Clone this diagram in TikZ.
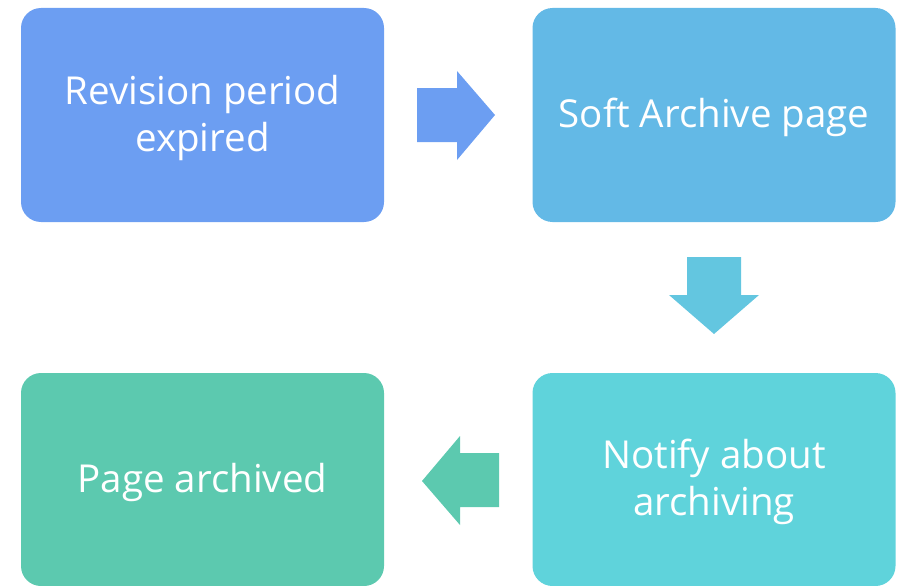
\documentclass[tikz,border=0pt]{standalone}
\usepackage{fontspec}
\setmainfont{Open Sans}
\definecolor{boxA}{HTML}{6C9EF2}
\definecolor{boxB}{HTML}{63B9E6}
\definecolor{boxC}{HTML}{5FD3DB}
\definecolor{boxD}{HTML}{5CC9AF}
\definecolor{arrB}{HTML}{63C6E0}
\begin{document}
\begin{tikzpicture}[x=1pt,y=-1pt,every node/.style={text=white,align=center,font=\fontsize{38.5}{47}\selectfont},
	stagebox/.style={rounded corners=20pt,minimum width=363pt,inner sep=0pt,text depth=4pt}]
		\useasboundingbox(0,0)rectangle(897,586);
		\node[stagebox,fill=boxA,minimum height=214pt](expired)at(202.5,115){Revision period\\expired};
		\node[stagebox,fill=boxB,minimum height=214pt](soft)at(714,115){Soft Archive page};
		\node[stagebox,fill=boxC,minimum height=213pt](notify)at(714,479.5){Notify about\\archiving};
		\node[stagebox,fill=boxD,minimum height=213pt](archived)at(202.5,479.5){Page archived};
		% block arrows
		\fill[boxA](417,88)--(457,88)--(457,71)--(495,115)--(457,160)--(457,142)--(417,142)--cycle;
		\fill[arrB](687,257)--(741,257)--(741,295)--(759,295)--(714,334)--(669,295)--(687,295)--cycle;
		\fill[boxD](499,453)--(460,453)--(460,436)--(422,481)--(460,525)--(460,507)--(499,507)--cycle;
		\end{tikzpicture}
\end{document}
